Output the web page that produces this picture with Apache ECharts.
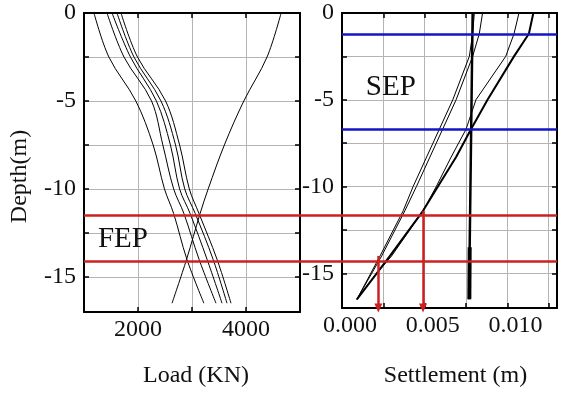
<!DOCTYPE html>
<html>
<head>
<meta charset="utf-8">
<script src="https://cdn.jsdelivr.net/npm/echarts@6/dist/echarts.min.js"></script>
<style>
  html, body { margin: 0; padding: 0; background: #fff; }
  #chart { width: 561px; height: 393px; }
</style>
</head>
<body>
<div id="chart"></div>
<script>
// left panel: load along the pile
const loadDepths = [0, -2.5, -5, -7.5, -10, -11.4, -14, -16.5];
const load1 = [1185, 1460, 1960, 2280, 2490, 2660, 2905, 3220];
const load2 = [1426, 1740, 2250, 2460, 2660, 2850, 3130, 3444];
const load3 = [1519, 1860, 2340, 2600, 2770, 2965, 3278, 3556];
const load4 = [1611, 1925, 2425, 2695, 2865, 3060, 3390, 3648];
const load5 = [1685, 1990, 2510, 2770, 2950, 3130, 3463, 3722];
const loadReverse = [4650, 4390, 3960, 3600, 3300, 3150, 2900, 2630];

// right panel: settlement
const settleDepthsAB = [0, -1.2, -2.5, -5, -7.5, -10, -11.4, -14, -16.5];
const settleA = [0.0080, 0.0079, 0.0077, 0.0067, 0.0055, 0.0043, 0.0037, 0.0023, 0.0009];
const settleB = [0.0085, 0.0083, 0.0079, 0.0069, 0.0057, 0.0045, 0.0038, 0.0024, 0.0009];
const settleDepthsCD = [0, -1.2, -2.5, -5, -6.7, -8.3, -10, -11.4, -14, -15, -16.5];
const settleC = [0.0107, 0.0104, 0.0099, 0.0081, 0.0075, 0.0066, 0.0057, 0.0049, 0.0030, 0.0021, 0.0009];
const settleD = [0.01157, 0.0113, 0.0104, 0.0088, 0.0078, 0.0069, 0.0058, 0.0049, 0.0029, 0.0021, 0.0009];
const pileDepths = [0, -13.5, -16.5];
const pileSettle = [0.0079, 0.00772, 0.0077];

// marker lines
const fepDepths = [-11.4, -14];
const sepDepths = [-1.2, -6.7];
const arrowSettle = [0.0049, 0.0022];
const fepLabel = [1720, -12.9];
const sepLabel = [0.00295, -4.3];

const font = 'Liberation Serif';
const red = '#cc2020';
const blue = '#1414c8';

// depth axis is drawn inverted with positive numbers so ticks start at 0
const pts = (xs, ds) => xs.map((x, i) => [x, -ds[i]]);

function mainX(gridIndex, min, max, interval, fmt, name, namePad) {
    return {
        type: 'value', gridIndex: gridIndex, position: 'bottom',
        min: min, max: max, interval: interval,
        name: name, nameLocation: 'middle', nameGap: 52,
        nameTextStyle: { fontFamily: font, fontSize: 24, color: '#111', padding: namePad },
        axisLine: { show: true, onZero: false, lineStyle: { color: '#000', width: 2 } },
        axisTick: { show: true, inside: true, length: 5, lineStyle: { color: '#000', width: 1.5 } },
        axisLabel: { fontFamily: font, fontSize: 24, color: '#111', margin: 6, formatter: fmt,
                     padding: gridIndex === 1 ? [0, 0, 0, 16] : 0 },
        splitLine: { show: true, lineStyle: { color: '#b4b4b4', width: 1 } }
    };
}
function sideX(gridIndex, min, max, interval) {
    return {
        type: 'value', gridIndex: gridIndex, position: 'top',
        min: min, max: max, interval: interval,
        axisLine: { show: true, onZero: false, lineStyle: { color: '#000', width: 2 } },
        axisTick: { show: true, inside: true, length: 5, lineStyle: { color: '#000', width: 1.5 } },
        axisLabel: { show: false }, splitLine: { show: false }
    };
}
const depthFmt = v => (Math.abs(v % 5) < 1e-6 ? (v === 0 ? '0' : '-' + v) : '');
function mainY(gridIndex, name) {
    return {
        type: 'value', gridIndex: gridIndex, position: 'left', inverse: true,
        min: 0, max: 17, interval: 2.5,
        name: name, nameLocation: 'middle', nameGap: 52,
        nameTextStyle: { fontFamily: font, fontSize: 24, color: '#111', padding: [0, 28, 0, 0] },
        axisLine: { show: true, onZero: false, lineStyle: { color: '#000', width: 2 } },
        axisTick: { show: true, inside: true, length: 5, lineStyle: { color: '#000', width: 1.5 } },
        axisLabel: { fontFamily: font, fontSize: 24, color: '#111', margin: 8, formatter: depthFmt },
        splitLine: { show: true, lineStyle: { color: '#b4b4b4', width: 1 } }
    };
}
function sideY(gridIndex) {
    return {
        type: 'value', gridIndex: gridIndex, position: 'right', inverse: true,
        min: 0, max: 17, interval: 2.5,
        axisLine: { show: true, onZero: false, lineStyle: { color: '#000', width: 2 } },
        axisTick: { show: true, inside: true, length: 5, lineStyle: { color: '#000', width: 1.5 } },
        axisLabel: { show: false }, splitLine: { show: false }
    };
}

const loadFmt = v => (v === 2000 || v === 4000 ? String(v) : '');
const settleFmt = v => {
    const k = v / 0.005;
    return Math.abs(k - Math.round(k)) < 1e-6 && v < 0.0125 ? v.toFixed(3) : '';
};

function curve(x, y, data, width, smooth) {
    return {
        type: 'line', xAxisIndex: x, yAxisIndex: y, data: data,
        showSymbol: false, symbol: 'none', smooth: smooth, silent: true, z: 3,
        lineStyle: { color: '#000', width: width }
    };
}

const leftSeries = [load1, load2, load3, load4, load5, loadReverse]
    .map(arr => curve(0, 0, pts(arr, loadDepths), 1, 0.35));
leftSeries[0].markPoint = {
    silent: true, symbol: 'rect', symbolSize: 1, itemStyle: { color: 'transparent' },
    label: { show: true, position: 'inside', formatter: 'FEP', fontFamily: font, fontSize: 29, color: '#111' },
    data: [{ coord: [fepLabel[0], -fepLabel[1]] }]
};

const pileSeries = curve(2, 2, pts(pileSettle, pileDepths), 2.5, false);
pileSeries.markLine = {
    silent: true, symbol: 'none', label: { show: false }, z: 5,
    lineStyle: { color: blue, width: 2.5, type: 'solid' },
    data: sepDepths.map(d => ({ yAxis: -d }))
};
const pileBottom = curve(2, 2, pts(pileSettle.slice(1), pileDepths.slice(1)), 4, false);

const settleSeriesC = curve(2, 2, pts(settleC, settleDepthsCD), 1, false);
settleSeriesC.markLine = {
    silent: true, symbol: ['none', 'triangle'], symbolSize: [8, 9], label: { show: false }, z: 6,
    lineStyle: { color: red, width: 2.5, type: 'solid' },
    data: arrowSettle.map((s, i) => [
        { coord: [s, -fepDepths[i]] },
        { coord: [s, 17], symbolRotate: 180 }
    ])
};
const settleSeriesD = curve(2, 2, pts(settleD, settleDepthsCD), 2, false);
settleSeriesD.markPoint = {
    silent: true, symbol: 'rect', symbolSize: 1, itemStyle: { color: 'transparent' },
    label: { show: true, position: 'inside', formatter: 'SEP', fontFamily: font, fontSize: 29, color: '#111' },
    data: [{ coord: [sepLabel[0], -sepLabel[1]] }]
};

const overlay = {
    type: 'line', xAxisIndex: 4, yAxisIndex: 4, data: [], silent: true,
    markLine: {
        silent: true, symbol: 'none', label: { show: false },
        lineStyle: { color: red, width: 2.5, type: 'solid' },
        data: fepDepths.map(d => ({ yAxis: -d }))
    },
    z: 6
};

const option = {
    animation: false,
    backgroundColor: '#fff',
    grid: [
        { left: 84, top: 13, width: 216, height: 302 },
        { left: 342, top: 13, width: 215, height: 302 },
        { left: 84, top: 13, width: 473, height: 302 }
    ],
    xAxis: [
        mainX(0, 1000, 5000, 1000, loadFmt, 'Load (KN)', [0, 0, 0, 8]),
        sideX(0, 1000, 5000, 1000),
        mainX(1, 0, 0.013, 0.0025, settleFmt, 'Settlement (m)', [4, 0, 0, 12]),
        sideX(1, 0, 0.013, 0.0025),
        { type: 'value', gridIndex: 2, min: 0, max: 1, show: false }
    ],
    yAxis: [
        mainY(0, 'Depth(m)'),
        sideY(0),
        mainY(1, ''),
        sideY(1),
        { type: 'value', gridIndex: 2, inverse: true, min: 0, max: 17, show: false }
    ],
    series: leftSeries.concat([
        curve(2, 2, pts(settleA, settleDepthsAB), 1, false),
        curve(2, 2, pts(settleB, settleDepthsAB), 1, false),
        settleSeriesC,
        settleSeriesD,
        pileSeries,
        pileBottom,
        overlay
    ])
};

const chart = echarts.init(document.getElementById('chart'), null, { renderer: 'canvas' });
chart.setOption(option);
</script>
</body>
</html>
